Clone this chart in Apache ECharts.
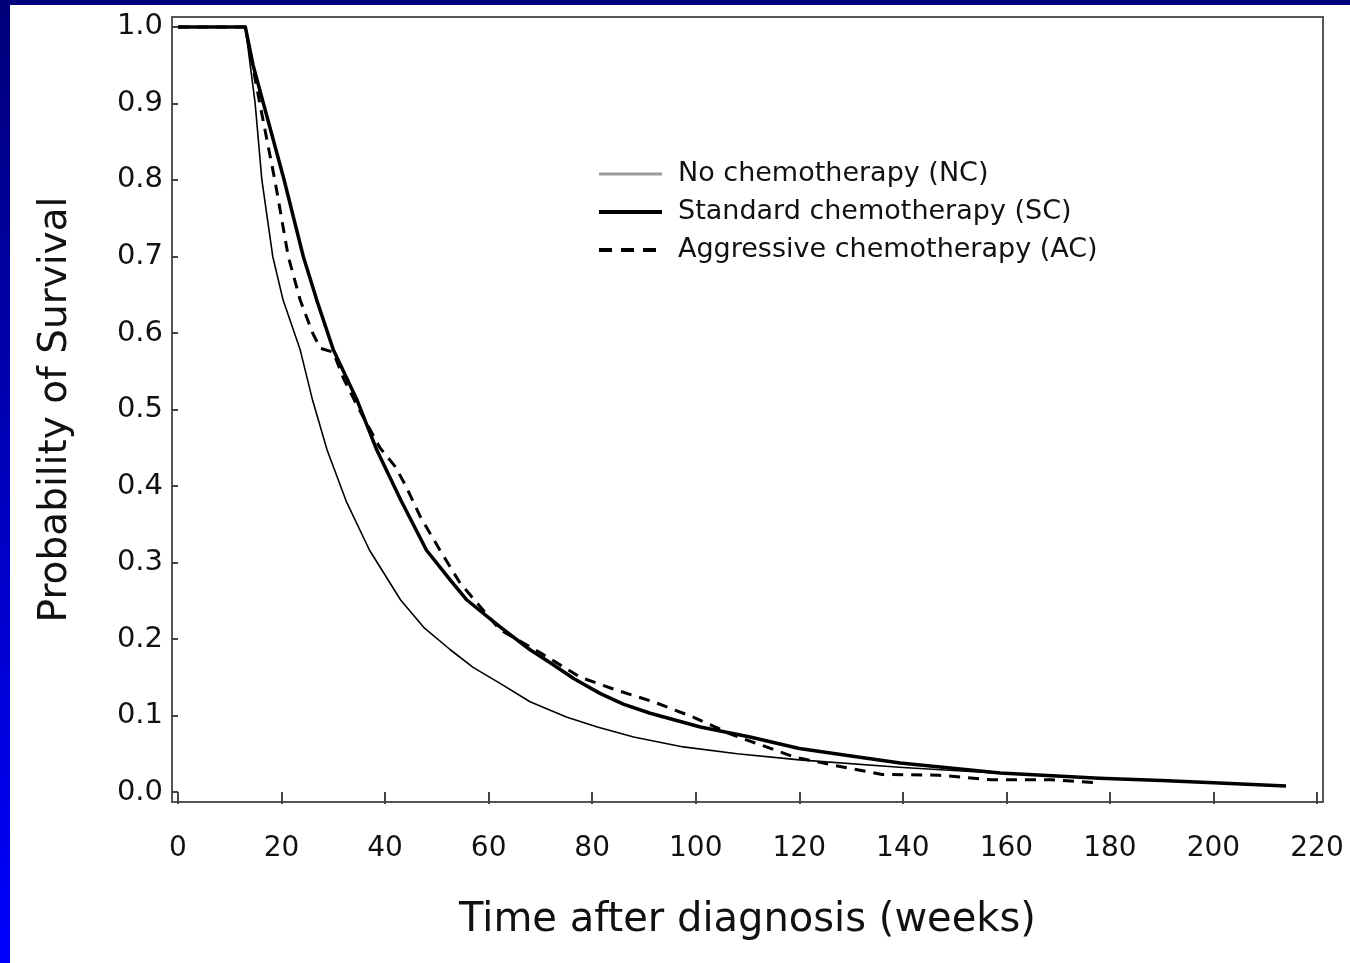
<!DOCTYPE html>
<html>
<head>
<meta charset="utf-8">
<script src="https://cdn.jsdelivr.net/npm/echarts@6/dist/echarts.min.js"></script>
<style>
html, body { margin:0; padding:0; width:1350px; height:963px; overflow:hidden;
  background: linear-gradient(to bottom, #00007a, #0000ff); }
#c { position:absolute; left:10px; top:5px; width:1340px; height:958px; background:#ffffff; }
</style>
</head>
<body>
<div id="c"></div>
<script>
// ---- data ----
const seriesNames = ['No chemotherapy (NC)', 'Standard chemotherapy (SC)', 'Aggressive chemotherapy (AC)'];

const ncTime = [0, 13, 14.9, 16.2, 18.3, 20.3, 23.6, 26, 28.8, 32.5, 37, 43, 47.5, 52.6, 57, 62.2, 68, 75, 81, 88, 97.6, 108, 120, 140, 158, 178, 200, 214];
const ncSurv = [1, 1, 0.9, 0.8, 0.7, 0.643, 0.578, 0.512, 0.447, 0.38, 0.316, 0.251, 0.215, 0.186, 0.163, 0.142, 0.118, 0.098, 0.085, 0.072, 0.059, 0.05, 0.042, 0.032, 0.025, 0.018, 0.012, 0.008];

const scTime = [0, 13, 14.5, 16.5, 20.5, 24.2, 26.8, 30, 34.6, 38.4, 43, 48, 52.6, 55.8, 62.2, 68, 71.9, 76.5, 81.5, 86, 91.2, 100.9, 110.5, 120, 130, 139.5, 158.8, 178, 190, 200, 214];
const scSurv = [1, 1, 0.95, 0.9, 0.8, 0.7, 0.643, 0.578, 0.512, 0.447, 0.382, 0.316, 0.277, 0.251, 0.216, 0.186, 0.169, 0.148, 0.129, 0.115, 0.103, 0.085, 0.072, 0.057, 0.047, 0.038, 0.025, 0.018, 0.015, 0.012, 0.008];

const acTime = [0, 13, 15.8, 18.7, 21.3, 23.6, 26, 27.5, 30, 32, 35, 39, 42, 44, 46.8, 50.6, 54.5, 62.2, 70, 77.7, 84.8, 91.8, 99.5, 107, 119, 126.6, 136, 147, 157, 168.5, 178];
const acSurv = [1, 1, 0.9, 0.8, 0.7, 0.643, 0.6, 0.58, 0.575, 0.54, 0.5, 0.45, 0.425, 0.4, 0.36, 0.316, 0.273, 0.212, 0.182, 0.15, 0.133, 0.118, 0.098, 0.075, 0.046, 0.035, 0.023, 0.022, 0.016, 0.016, 0.012];

const xTicks = [0, 20, 40, 60, 80, 100, 120, 140, 160, 180, 200, 220];
const yTicks = [0, 0.1, 0.2, 0.3, 0.4, 0.5, 0.6, 0.7, 0.8, 0.9, 1.0];

// ---- chart ----
const zip = (t, s) => t.map((v, i) => [v, s[i]]);
const FONT = 'DejaVu Sans';
const chart = echarts.init(document.getElementById('c'), null, { renderer: 'canvas' });

chart.setOption({
  animation: false,
  backgroundColor: '#ffffff',
  grid: { left: 162, top: 12, right: 27, bottom: 161, show: true,
          borderColor: '#555555', borderWidth: 2, backgroundColor: 'transparent' },
  legend: {
    orient: 'vertical', left: 587, top: 155, padding: 0,
    itemWidth: 63, itemHeight: 14, itemGap: 10,
    itemStyle: { opacity: 0 },
    textStyle: { fontFamily: FONT, fontSize: 27, color: '#111111', lineHeight: 28, padding: [0, 0, 0, 11] },
    data: [
      { name: seriesNames[0], itemStyle: { opacity: 0 }, lineStyle: { color: '#9a9a9a', width: 3, type: 'solid' } },
      { name: seriesNames[1], itemStyle: { opacity: 0 }, lineStyle: { color: '#000000', width: 4, type: 'solid' } },
      { name: seriesNames[2], itemStyle: { opacity: 0 }, lineStyle: { color: '#000000', width: 4, type: [13, 9] } }
    ]
  },
  xAxis: {
    type: 'value', min: -1.16, max: 221.16,
    name: 'Time after diagnosis (weeks)', nameLocation: 'middle', nameGap: 99,
    nameTextStyle: { fontFamily: FONT, fontSize: 40, color: '#111111' },
    axisLine: { show: false },
    splitLine: { show: false },
    axisTick: { show: true, customValues: xTicks, length: 12, lineStyle: { color: '#444444', width: 2 } },
    axisLabel: { customValues: xTicks, fontFamily: FONT, fontSize: 28, color: '#111111', margin: 33 }
  },
  yAxis: {
    type: 'value', min: -0.013, max: 1.013,
    name: 'Probability of Survival', nameLocation: 'middle', nameGap: 97, nameRotate: 90,
    nameTextStyle: { fontFamily: FONT, fontSize: 39, color: '#111111' },
    axisLine: { show: false },
    splitLine: { show: false },
    axisTick: { show: true, customValues: yTicks, length: 7, lineStyle: { color: '#444444', width: 2 } },
    axisLabel: { customValues: yTicks, fontFamily: FONT, fontSize: 29, color: '#111111', margin: 9,
                 formatter: v => Number(v).toFixed(1) }
  },
  series: [
    { name: seriesNames[0], type: 'line', symbol: 'none', data: zip(ncTime, ncSurv),
      itemStyle: { color: '#000000' },
      lineStyle: { color: '#000000', width: 1.6, join: 'round' }, z: 2 },
    { name: seriesNames[1], type: 'line', symbol: 'none', data: zip(scTime, scSurv),
      itemStyle: { color: '#000000' },
      lineStyle: { color: '#000000', width: 3.5, join: 'round' }, z: 3 },
    { name: seriesNames[2], type: 'line', symbol: 'none', data: zip(acTime, acSurv),
      itemStyle: { color: '#000000' },
      lineStyle: { color: '#000000', width: 3, type: [11, 8] }, z: 4 }
  ]
});
</script>
</body>
</html>
